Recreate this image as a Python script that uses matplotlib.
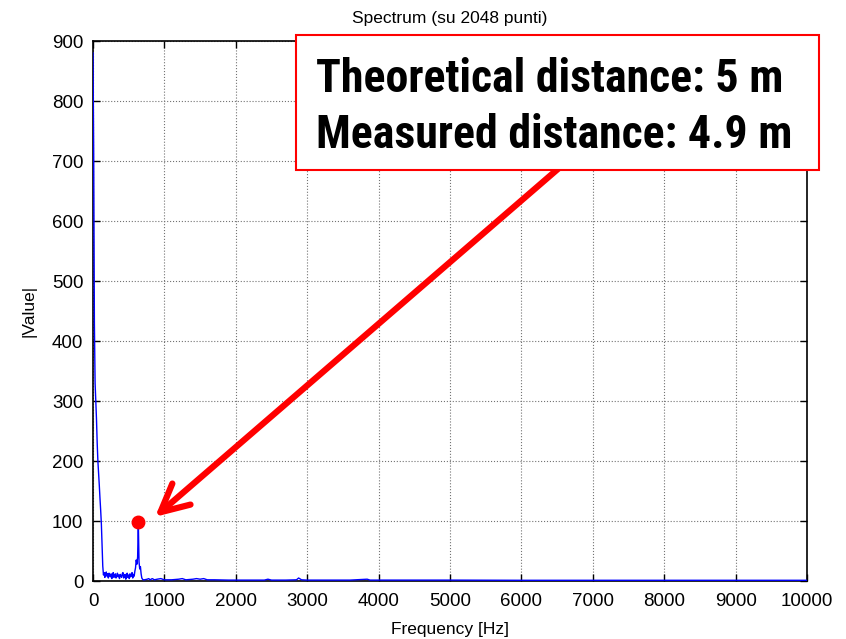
import matplotlib
matplotlib.use("Agg")
import matplotlib.pyplot as plt
from matplotlib import font_manager

plt.rcParams['font.family'] = ['Liberation Sans', 'DejaVu Sans']

# ---- data ----
freq_low = [0, 9.8, 19.5, 29.3, 39.1, 48.8, 58.6, 68.4, 78.1, 87.9,
            97.7, 107.4, 117.2, 127.0, 136.7, 146.5]
mag_low = [880, 712, 430, 330, 300, 270, 230, 200, 180, 160,
           138, 118, 95, 60, 25, 10]

freq_noise = [156.3, 166.0, 175.8, 185.5, 195.3, 205.1, 214.8, 224.6, 234.4, 244.1,
              253.9, 263.7, 273.4, 283.2, 293.0, 302.7, 312.5, 322.3, 332.0, 341.8,
              351.6, 361.3, 371.1, 380.9, 390.6, 400.4, 410.2, 419.9, 429.7, 439.5,
              449.2, 459.0, 468.8, 478.5, 488.3, 498.0, 507.8, 517.6, 527.3, 537.1,
              546.9, 556.6, 566.4, 576.2, 585.9]
mag_noise = [14, 6, 11, 15, 8, 12, 5, 13, 9, 7,
             12, 4, 10, 14, 6, 9, 12, 5, 8, 13,
             7, 10, 4, 11, 9, 6, 12, 14, 5, 9,
             11, 3, 8, 13, 6, 10, 4, 12, 7, 9,
             14, 5, 11, 8, 16]

freq_peak = [595.7, 605.5, 615.2, 625.0, 634.8, 644.5, 654.3, 664.1, 673.8, 683.6, 693.4, 703.1]
mag_peak = [22, 35, 28, 40, 97, 32, 20, 24, 12, 5, 3, 2]

freq_tail = [720, 760, 780, 800, 830, 860, 900, 950, 1000, 1100, 1200, 1250, 1300,
             1400, 1450, 1500, 1550, 1600, 1700, 1900, 2100, 2400, 2450, 2500, 2700,
             2850, 2880, 2920, 3000, 3300, 3600, 3840, 3880, 4200, 5000, 6000, 7000,
             8000, 9000, 10000]
mag_tail = [2, 3, 4, 2, 4, 2, 3, 4, 2, 2, 3, 4, 2,
            3, 4, 3, 4, 2, 2, 1.5, 1.5, 1.5, 3, 1.5, 1.5,
            2, 5, 2, 1.5, 1.5, 1.5, 3, 1.5, 1.5, 1.5, 1.2, 1.2,
            1.2, 1.2, 1.2]

peak_freq = 631
peak_mag = 98

x_ticks = [0, 1000, 2000, 3000, 4000, 5000, 6000, 7000, 8000, 9000, 10000]
y_ticks = [0, 100, 200, 300, 400, 500, 600, 700, 800, 900]

title = "Spectrum (su 2048 punti)"
xlabel = "Frequency [Hz]"
ylabel = "|Value|"
box_line1 = "Theoretical distance: 5 m"
box_line2 = "Measured distance: 4.9 m"

freq = freq_low + freq_noise + freq_peak + freq_tail
mag = mag_low + mag_noise + mag_peak + mag_tail

# ---- pick a condensed bold font if available ----
cond_file = None
for fe in font_manager.fontManager.ttflist:
    nm = (fe.name + " " + fe.fname).lower()
    if ('narrow' in nm or 'condensed' in nm) and (fe.weight in ('bold', 700) or 'bold' in nm):
        if 'oblique' in nm or 'italic' in nm:
            continue
        if cond_file is None or 'liberation' in nm or 'roboto' in nm:
            cond_file = fe.fname
if cond_file is not None:
    box_fp = font_manager.FontProperties(fname=cond_file)
else:
    box_fp = font_manager.FontProperties(family=['Liberation Sans'], weight='bold')

# ---- figure ----
fig = plt.figure(figsize=(8.46, 6.39), dpi=100)
ax = fig.add_axes([93/846, 58/639, (807-93)/846, (581-41)/639])

ax.plot(freq, mag, color=(0, 0, 1), lw=1.0, zorder=3)
ax.plot([peak_freq], [peak_mag], 'o', color='red', ms=9, zorder=4)

ax.set_xlim(0, 10000)
ax.set_ylim(0, 900)
ax.set_xticks(x_ticks)
ax.set_yticks(y_ticks)
ax.tick_params(direction='in', length=5, width=1, top=True, right=True,
               labelsize=13.5)
ax.tick_params(axis='x', pad=9)
ax.tick_params(axis='y', pad=7)
ax.grid(True, linestyle=':', color='0.45', lw=0.8)
for s in ax.spines.values():
    s.set_linewidth(1.2)

ax.set_title(title, fontsize=12.5, pad=13)
ax.set_xlabel(xlabel, fontsize=12.5, labelpad=8)
ax.set_ylabel(ylabel, fontsize=12.5, labelpad=11)

# arrow
ax.annotate("", xy=(870, 107), xytext=(6816, 718),
            arrowprops=dict(arrowstyle="->, head_length=1.0, head_width=0.5",
                            color='red', lw=4.5, mutation_scale=20,
                            shrinkA=0, shrinkB=0),
            zorder=5, annotation_clip=False)

# box
bx0, by0, bx1, by1 = 296/846, 1-170/639, 819/846, 1-35/639
box = plt.Rectangle((bx0, by0), bx1-bx0, by1-by0, transform=fig.transFigure,
                    facecolor='white', edgecolor='red', lw=1.5, zorder=10)
fig.patches.append(box)

t1 = fig.text(316/846, 1-92/639, box_line1, fontproperties=box_fp, size=32,
              ha='left', va='baseline', zorder=11)
t2 = fig.text(316/846, 1-148/639, box_line2, fontproperties=box_fp, size=32,
              ha='left', va='baseline', zorder=11)

# fit the text width to the box (target ~477 px for the second line)
fig.canvas.draw()
r = fig.canvas.get_renderer()
w2 = t2.get_window_extent(r).width
scale = min(max(477.0 / w2, 0.5), 1.04)
for t in (t1, t2):
    t.set_size(32 * scale)

fig.savefig("out.png", dpi=100)
